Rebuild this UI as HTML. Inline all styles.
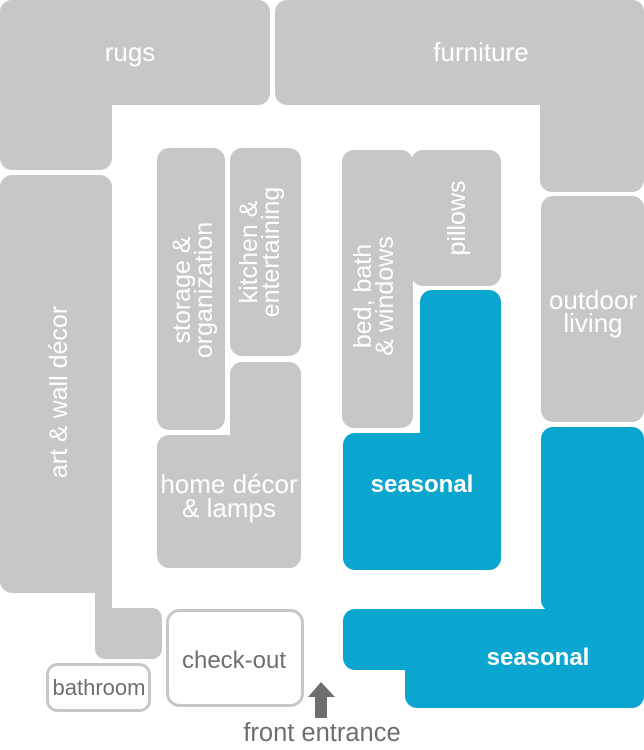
<!DOCTYPE html>
<html><head><style>
html,body{margin:0;padding:0;background:#fff;}
svg{display:block;}
text{font-family:"Liberation Sans",sans-serif;}
</style></head><body>
<svg width="644" height="750" viewBox="0 0 644 750" xmlns="http://www.w3.org/2000/svg">
<g fill="#c6c7c9">
<rect x="0" y="0" width="270" height="105" rx="12"/>
<rect x="0" y="0" width="112" height="170" rx="12"/>
<rect x="275" y="0" width="369" height="105" rx="12"/>
<rect x="540" y="0" width="104" height="192" rx="12"/>
<rect x="0" y="175" width="112" height="418" rx="12"/>
<rect x="95" y="608" width="67" height="51" rx="10"/>
<rect x="95" y="570" width="17" height="50"/>
<rect x="157" y="148" width="68" height="282" rx="12"/>
<rect x="230" y="148" width="71" height="208" rx="12"/>
<rect x="230" y="362" width="71" height="206" rx="12"/>
<rect x="157" y="435" width="144" height="133" rx="12"/>
<rect x="342" y="150" width="71" height="278" rx="12"/>
<rect x="411" y="150" width="90" height="136" rx="12"/>
<rect x="541" y="196" width="103" height="226" rx="12"/>
</g>
<g fill="#0aa6cf">
<rect x="420" y="290" width="81" height="280" rx="12"/>
<rect x="343" y="433" width="158" height="137" rx="12"/>
<rect x="541" y="427" width="103" height="185" rx="12"/>
<rect x="343" y="609" width="301" height="61" rx="12"/>
<rect x="405" y="640" width="239" height="68" rx="12"/>
<rect x="590" y="590" width="54" height="30"/>
</g>
<rect x="167.5" y="610.5" width="135" height="95" rx="12" fill="#fff" stroke="#c6c7c9" stroke-width="3"/>
<rect x="47.5" y="664.5" width="102" height="46" rx="10" fill="#fff" stroke="#c6c7c9" stroke-width="3"/>
<polygon points="321,682 335,697 327,697 327,718 315,718 315,697 308,697" fill="#6d6e70"/>
<g fill="#fff" font-size="26" text-anchor="middle">
<text x="130" y="61">rugs</text>
<text x="481" y="61">furniture</text>
<text x="593" y="309">outdoor</text>
<text x="593" y="332">living</text>
<text x="229" y="493">home décor</text>
<text x="229" y="517">&amp; lamps</text>
</g>
<g fill="#fff" font-size="25" text-anchor="middle">
<text transform="translate(67,392) rotate(-90)">art &amp; wall décor</text>
<text transform="translate(190,290) rotate(-90)">storage &amp;</text>
<text transform="translate(212,290) rotate(-90)">organization</text>
<text transform="translate(257,252) rotate(-90)">kitchen &amp;</text>
<text transform="translate(279,252) rotate(-90)">entertaining</text>
<text transform="translate(371,296) rotate(-90)">bed, bath</text>
<text transform="translate(393,296) rotate(-90)">&amp; windows</text>
<text transform="translate(465,218) rotate(-90)">pillows</text>
</g>
<g fill="#fff" font-size="24" text-anchor="middle" font-weight="bold">
<text x="422" y="492">seasonal</text>
<text x="538" y="665">seasonal</text>
</g>
<g fill="#6d6e70" text-anchor="middle">
<text x="234" y="668" font-size="24">check-out</text>
<text x="99" y="695" font-size="22">bathroom</text>
<text x="322" y="741" font-size="25.5">front entrance</text>
</g>
</svg>
</body></html>
